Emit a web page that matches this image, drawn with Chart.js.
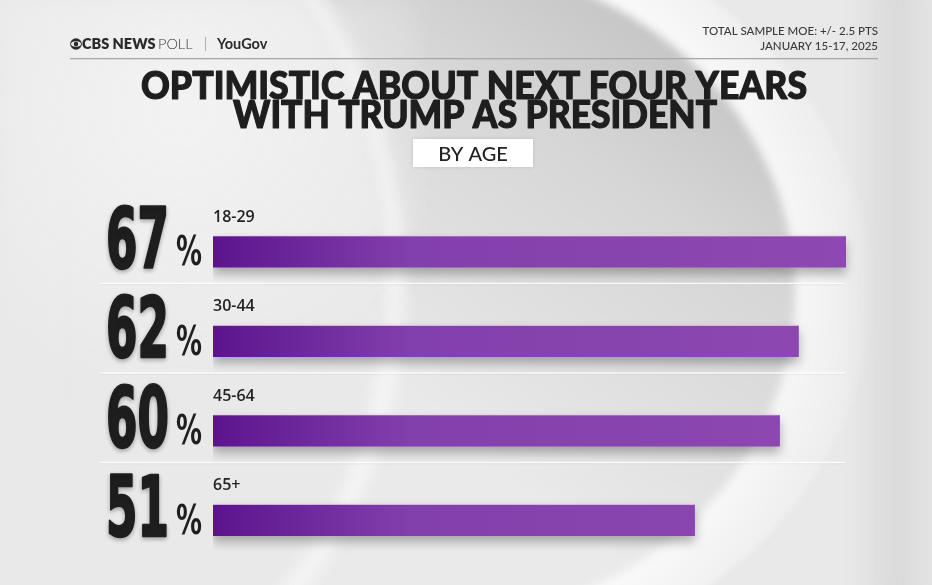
<!DOCTYPE html>
<html>
<head>
<meta charset="utf-8">
<script src="https://cdn.jsdelivr.net/npm/chart.js@4.4.1/dist/chart.umd.min.js"></script>
<style>
  html, body { margin: 0; padding: 0; background: #ebebeb; }
  #wrap { width: 932px; height: 585px; position: relative; }
</style>
</head>
<body>
<div id="wrap"><canvas id="grafica"></canvas></div>
<script>
// datos
const grupos = ['18-29', '30-44', '45-64', '65+'];
const optimistas = [67, 62, 60, 51];
const ejeMax = 70;

const titulo = ['OPTIMISTIC ABOUT NEXT FOUR YEARS', 'WITH TRUMP AS PRESIDENT'];
const subtitulo = 'BY AGE';
const notaMoe = ['TOTAL SAMPLE MOE: +/- 2.5 PTS', 'JANUARY 15-17, 2025'];

const fuenteTitulo = '"Lato", "Open Sans", sans-serif';
const fuenteNumeros = '"Liberation Sans Narrow", "DejaVu Sans Condensed", "Liberation Sans", sans-serif';

function dibujarFondo(ctx, w, h) {
    ctx.save();
    ctx.fillStyle = '#e9e9e9';
    ctx.fillRect(0, 0, w, h);

    // media luna blanca exterior
    ctx.beginPath();
    ctx.ellipse(430, 292, 440, 380, 0, 0, Math.PI * 2);
    let g = ctx.createRadialGradient(430, 292, 330, 430, 292, 460);
    g.addColorStop(0, '#fbfbfb');
    g.addColorStop(0.5, '#f2f2f2');
    g.addColorStop(1, '#e9e9e9');
    ctx.fillStyle = g;
    ctx.filter = 'blur(3px)';
    ctx.fill();

    // banda gris interior
    ctx.beginPath();
    ctx.ellipse(430, 292, 365, 330, 0, 0, Math.PI * 2);
    g = ctx.createLinearGradient(700, 30, 420, 420);
    g.addColorStop(0, '#c3c3c3');
    g.addColorStop(0.35, '#d6d6d6');
    g.addColorStop(0.75, '#e2e2e2');
    g.addColorStop(1, '#eaeaea');
    ctx.fillStyle = g;
    ctx.filter = 'blur(4px)';
    ctx.fill();

    // zona izquierda lisa
    ctx.beginPath();
    ctx.ellipse(60, 282, 320, 420, 0, 0, Math.PI * 2);
    ctx.fillStyle = '#e9e9e9';
    ctx.filter = 'blur(6px)';
    ctx.fill();
    ctx.fillRect(-20, -20, 80, h + 40);

    // borde claro del anillo izquierdo
    ctx.beginPath();
    ctx.ellipse(60, 282, 335, 428, 0, -Math.PI / 2, Math.PI / 2);
    ctx.strokeStyle = 'rgba(248,248,248,0.85)';
    ctx.lineWidth = 18;
    ctx.filter = 'blur(8px)';
    ctx.stroke();

    // franja derecha
    ctx.filter = 'blur(10px)';
    g = ctx.createLinearGradient(850, 0, 932, 0);
    g.addColorStop(0, 'rgba(212,212,212,0)');
    g.addColorStop(0.6, 'rgba(212,212,212,0.8)');
    g.addColorStop(1, 'rgba(225,225,225,0.6)');
    ctx.fillStyle = g;
    ctx.fillRect(850, -20, 100, h + 40);

    // zona clara arriba a la izquierda
    g = ctx.createRadialGradient(180, 110, 20, 180, 110, 300);
    g.addColorStop(0, 'rgba(244,244,244,0.8)');
    g.addColorStop(1, 'rgba(244,244,244,0)');
    ctx.fillStyle = g;
    ctx.fillRect(0, 0, 420, 420);
    ctx.restore();
}

function dibujarCabecera(ctx) {
    ctx.save();
    // logo ojo CBS
    ctx.fillStyle = '#2a2a2a';
    ctx.beginPath();
    ctx.arc(76, 44, 5.8, 0, Math.PI * 2);
    ctx.fill();
    ctx.fillStyle = '#ebebeb';
    ctx.beginPath();
    ctx.ellipse(76, 44, 5, 2.8, 0, 0, Math.PI * 2);
    ctx.fill();
    ctx.fillStyle = '#2a2a2a';
    ctx.beginPath();
    ctx.arc(76, 44, 2.2, 0, Math.PI * 2);
    ctx.fill();

    ctx.textBaseline = 'alphabetic';
    ctx.textAlign = 'left';
    ctx.fillStyle = '#2b2b2b';
    ctx.font = '800 14.5px ' + fuenteTitulo;
    ctx.fillText('CBS NEWS', 82, 49, 74);
    ctx.fillStyle = '#3a3a3a';
    ctx.font = '300 14.5px ' + fuenteTitulo;
    ctx.fillText('POLL', 158, 49, 36);
    ctx.fillStyle = '#b0b0b0';
    ctx.fillRect(205, 37, 1, 14);
    ctx.fillStyle = '#2b2b2b';
    ctx.font = '700 14.5px ' + fuenteTitulo;
    ctx.fillText('YouGov', 217, 49, 84);

    ctx.textAlign = 'right';
    ctx.fillStyle = '#3a3a3a';
    ctx.font = '500 11.5px ' + fuenteTitulo;
    ctx.fillText(notaMoe[0], 878, 35, 212);
    ctx.fillText(notaMoe[1], 878, 50, 140);

    ctx.fillStyle = '#a8a8a8';
    ctx.fillRect(70, 58, 808, 1.3);

    // titulo, engrosado con un trazo
    ctx.textAlign = 'center';
    ctx.fillStyle = '#1e1e1e';
    ctx.strokeStyle = '#1e1e1e';
    ctx.lineWidth = 1.2;
    ctx.lineJoin = 'round';
    ctx.font = '900 38px ' + fuenteTitulo;
    ctx.fillText(titulo[0], 474, 99, 666);
    ctx.strokeText(titulo[0], 474, 99, 666);
    ctx.fillText(titulo[1], 475, 128, 484);
    ctx.strokeText(titulo[1], 475, 128, 484);

    // caja del subtitulo
    ctx.shadowColor = 'rgba(0,0,0,0.12)';
    ctx.shadowBlur = 4;
    ctx.fillStyle = '#ffffff';
    ctx.fillRect(413, 139, 120, 28);
    ctx.shadowColor = 'transparent';
    ctx.fillStyle = '#222222';
    ctx.font = '500 20px ' + fuenteTitulo;
    ctx.fillText(subtitulo, 473, 161, 82);
    ctx.restore();
}

const pluginFondo = {
    id: 'fondo',
    beforeDraw(chart) {
        dibujarFondo(chart.ctx, chart.width, chart.height);
        dibujarCabecera(chart.ctx);
    }
};

const pluginFilas = {
    id: 'filas',
    beforeDatasetsDraw(chart) {
        const ctx = chart.ctx;
        const meta = chart.getDatasetMeta(0);
        // lineas separadoras
        ctx.save();
        meta.data.forEach((bar, i) => {
            if (i === meta.data.length - 1) return;
            const y = bar.y + 32;
            ctx.fillStyle = 'rgba(255,255,255,0.9)';
            ctx.fillRect(100, y - 1, 745, 1.5);
            ctx.fillStyle = 'rgba(0,0,0,0.05)';
            ctx.fillRect(100, y + 0.5, 745, 1);
        });
        ctx.restore();
        // sombra de las barras
        ctx.save();
        ctx.shadowColor = 'rgba(40,40,40,0.35)';
        ctx.shadowBlur = 10;
        ctx.shadowOffsetY = 6;
    },
    afterDatasetsDraw(chart) {
        const ctx = chart.ctx;
        ctx.restore();
        const meta = chart.getDatasetMeta(0);
        ctx.save();
        meta.data.forEach((bar, i) => {
            const top = bar.y - bar.height / 2;
            const bottom = bar.y + bar.height / 2;
            // brillo superior
            ctx.fillStyle = 'rgba(240,200,245,0.7)';
            ctx.fillRect(bar.base, top - 1, bar.x - bar.base, 1.2);

            // etiqueta del grupo
            ctx.fillStyle = '#232323';
            ctx.textAlign = 'left';
            ctx.textBaseline = 'alphabetic';
            ctx.font = '600 16px "Open Sans", sans-serif';
            ctx.fillText(grupos[i], bar.base, bar.y - 30);

            // numero grande
            const txt = String(optimistas[i]);
            ctx.font = 'bold 84px ' + fuenteNumeros;
            const ref = ctx.measureText('67').width;
            const esc = 63 / ref;
            const ancho = ctx.measureText(txt).width * esc;
            ctx.save();
            ctx.translate(106, bottom + 0.5);
            ctx.scale(esc, 1);
            ctx.shadowColor = 'rgba(0,0,0,0.25)';
            ctx.shadowBlur = 4;
            ctx.shadowOffsetY = 2;
            ctx.fillStyle = '#1f1f1f';
            ctx.strokeStyle = '#1f1f1f';
            ctx.lineWidth = 2.5;
            ctx.lineJoin = 'round';
            ctx.fillText(txt, 0, 0);
            ctx.strokeText(txt, 0, 0);
            ctx.restore();

            // signo de porcentaje, estrecho
            ctx.font = 'bold 40px ' + fuenteNumeros;
            const escP = 26 / ctx.measureText('%').width;
            ctx.save();
            ctx.translate(106 + ancho + 7, bottom - 2);
            ctx.scale(escP, 1);
            ctx.fillStyle = '#1f1f1f';
            ctx.fillText('%', 0, 0);
            ctx.restore();
        });
        ctx.restore();
    }
};

function colorBarra(context) {
    const area = context.chart.chartArea;
    if (!area) return '#8a44ae';
    const g = context.chart.ctx.createLinearGradient(area.left, 0, area.right, 0);
    g.addColorStop(0, '#5c148e');
    g.addColorStop(0.3, '#8240ac');
    g.addColorStop(1, '#8f49b1');
    return g;
}

const ctx = document.getElementById('grafica').getContext('2d');
new Chart(ctx, {
    type: 'bar',
    data: {
        labels: grupos,
        datasets: [{
            data: optimistas,
            backgroundColor: colorBarra,
            borderWidth: 0,
            barThickness: 31
        }]
    },
    options: {
        indexAxis: 'y',
        responsive: true,
        maintainAspectRatio: false,
        animation: false,
        layout: { padding: { left: 213, right: 58, top: 207, bottom: 20 } },
        scales: {
            x: { min: 0, max: ejeMax, display: false },
            y: { display: false }
        },
        plugins: {
            legend: { display: false },
            tooltip: { enabled: false }
        }
    },
    plugins: [pluginFondo, pluginFilas]
});
</script>
</body>
</html>
